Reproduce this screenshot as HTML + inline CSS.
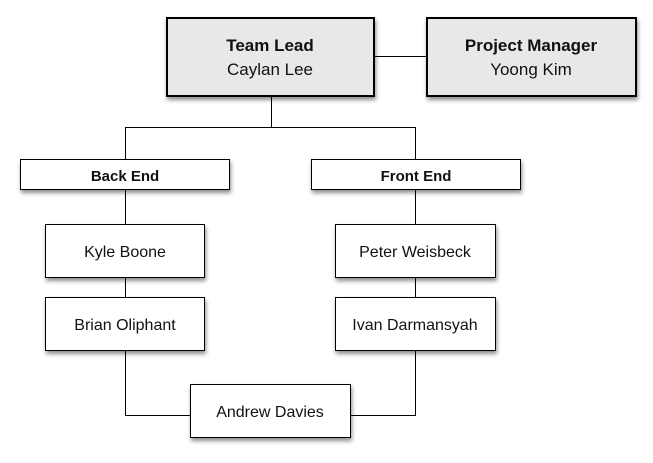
<!DOCTYPE html>
<html><head><meta charset="utf-8"><style>
html,body{margin:0;padding:0;background:#fff;width:653px;height:463px;overflow:hidden}
svg text{font-family:"Liberation Sans",Arial,sans-serif;fill:#111}
</style></head><body>
<svg width="653" height="463" viewBox="0 0 653 463" xmlns="http://www.w3.org/2000/svg">
<defs><filter id="s" x="-10%" y="-10%" width="130%" height="140%"><feGaussianBlur in="SourceAlpha" stdDeviation="2"/><feOffset dx="1" dy="3"/><feComponentTransfer><feFuncA type="linear" slope="0.45"/></feComponentTransfer><feMerge><feMergeNode/><feMergeNode in="SourceGraphic"/></feMerge></filter></defs>
<g stroke="#000" stroke-width="1" fill="none">
<line x1="375" y1="56.5" x2="426" y2="56.5"/>
<line x1="271.5" y1="97" x2="271.5" y2="127"/>
<polyline points="125.5,159 125.5,127.5 415.5,127.5 415.5,159"/>
<line x1="125.5" y1="190" x2="125.5" y2="224"/>
<line x1="415.5" y1="190" x2="415.5" y2="224"/>
<line x1="125.5" y1="278" x2="125.5" y2="297"/>
<line x1="415.5" y1="278" x2="415.5" y2="297"/>
<polyline points="125.5,351 125.5,415.5 190,415.5"/>
<polyline points="351,415.5 415.5,415.5 415.5,351"/>
</g>
<g filter="url(#s)" stroke="#000">
<rect x="167" y="18" width="207" height="78" fill="#e8e8e8" stroke-width="2"/>
<rect x="427" y="18" width="209" height="78" fill="#e8e8e8" stroke-width="2"/>
<rect x="20.5" y="159.5" width="209" height="30" fill="#fff"/>
<rect x="311.5" y="159.5" width="209" height="30" fill="#fff"/>
<rect x="45.5" y="224.5" width="159" height="53" fill="#fff"/>
<rect x="45.5" y="297.5" width="159" height="53" fill="#fff"/>
<rect x="335.5" y="224.5" width="160" height="53" fill="#fff"/>
<rect x="335.5" y="297.5" width="160" height="53" fill="#fff"/>
<rect x="190.5" y="384.5" width="160" height="53" fill="#fff"/>
</g>
<g text-anchor="middle">
<text x="270" y="51" font-size="17" font-weight="bold">Team Lead</text>
<text x="270" y="75" font-size="17">Caylan Lee</text>
<text x="531" y="51" font-size="17" font-weight="bold">Project Manager</text>
<text x="531" y="75" font-size="17">Yoong Kim</text>
<text x="125" y="181" font-size="15" font-weight="bold">Back End</text>
<text x="416" y="181" font-size="15" font-weight="bold">Front End</text>
<text x="125" y="257" font-size="16">Kyle Boone</text>
<text x="125" y="330" font-size="16">Brian Oliphant</text>
<text x="415" y="257" font-size="16">Peter Weisbeck</text>
<text x="415" y="330" font-size="16">Ivan Darmansyah</text>
<text x="270" y="417" font-size="16">Andrew Davies</text>
</g>
</svg>
</body></html>
